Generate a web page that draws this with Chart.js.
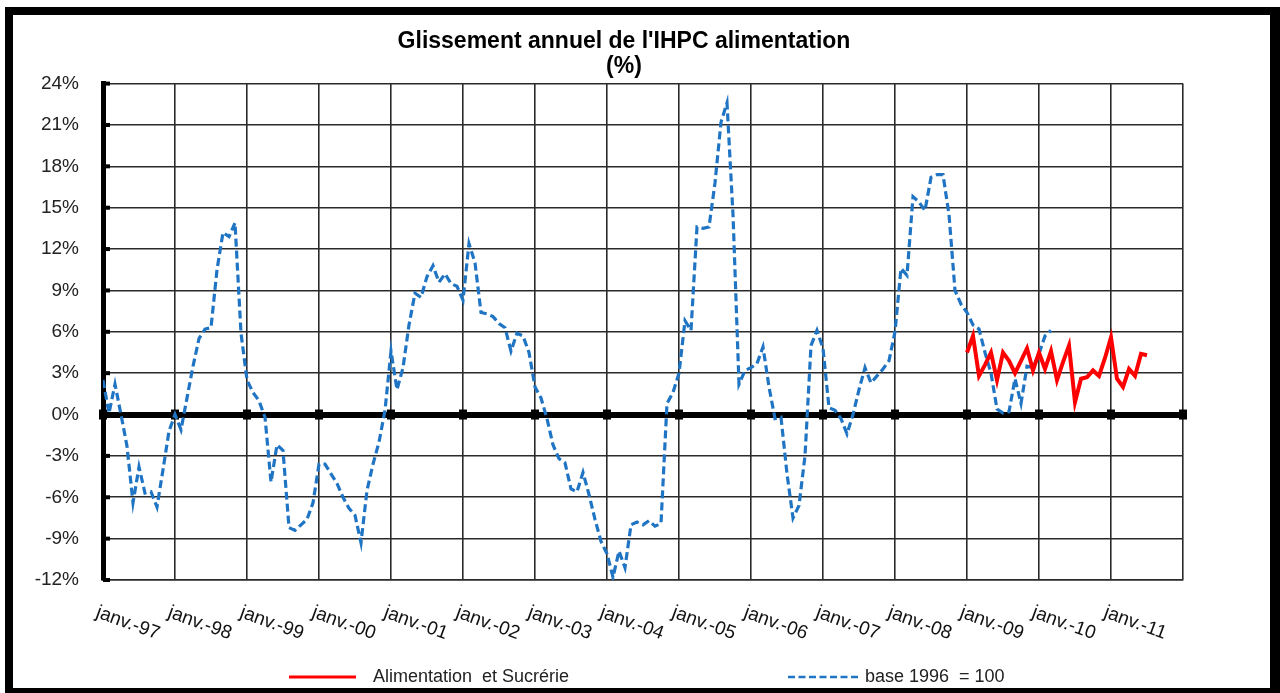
<!DOCTYPE html>
<html lang="fr">
<head>
<meta charset="utf-8">
<title>Glissement annuel de l'IHPC alimentation</title>
<script src="https://cdn.jsdelivr.net/npm/chart.js@4.4.1/dist/chart.umd.min.js"></script>
<style>
  html, body { margin: 0; padding: 0; background: #fff; overflow: hidden; }
  /* heavy black frame round the picture */
  #frame {
    position: absolute; left: 5px; top: 7px; width: 1275px; height: 686px;
    box-sizing: border-box; border: solid #000; border-width: 8px 10px 5px 8px;
  }
  #chart { position: absolute; left: 0; top: 0; }
</style>
</head>
<body>
<div id="frame"></div>
<canvas id="chart" width="1280" height="693"></canvas>
<script>
"use strict";

// x axis: months counted from janv. 1997 (0) to janv. 2012 (180)
const YEAR_LABELS = [
  "janv.-97", "janv.-98", "janv.-99", "janv.-00", "janv.-01",
  "janv.-02", "janv.-03", "janv.-04", "janv.-05", "janv.-06",
  "janv.-07", "janv.-08", "janv.-09", "janv.-10", "janv.-11",
];
const MONTHS_SPAN = 180;

const Y_MIN = -12;
const Y_MAX = 24;
const Y_STEP = 3;

// base 1996 = 100, monthly from janv. 1997 to mars 2010
const BASE_1996 = [
  2.5, 0.1, 2.2, 0.0, -2.3, -6.4, -3.8, -5.7, -5.6, -6.7, -4.0, -1.2,     // 1997
  0.0, -1.1, 1.2, 3.5, 5.5, 6.2, 6.3, 10.5, 13.2, 12.9, 13.9, 5.9,        // 1998
  2.5, 1.6, 1.0, -0.2, -4.9, -2.2, -2.6, -8.2, -8.4, -8.0, -7.6, -6.4,    // 1999
  -3.6, -3.6, -4.3, -5.0, -6.0, -6.8, -7.3, -9.3, -5.5, -3.6, -2.0, 0.3,  // 2000
  4.6, 1.8, 3.4, 6.5, 8.8, 8.5, 10.0, 10.8, 9.6, 10.2, 9.5, 9.3,          // 2001
  8.3, 12.4, 11.0, 7.4, 7.3, 7.1, 6.6, 6.3, 4.6, 5.9, 5.7, 4.5,           // 2002
  2.0, 1.2, -0.3, -2.2, -3.2, -3.5, -5.4, -5.6, -4.2, -5.8, -7.6, -9.2,   // 2003
  -10.1, -11.8, -9.9, -11.1, -8.0, -7.8, -8.0, -7.7, -8.1, -7.9, 0.8, 1.6, // 2004
  3.0, 6.8, 6.1, 13.6, 13.5, 13.6, 16.8, 21.2, 22.6, 14.5, 2.2, 3.2,      // 2005
  3.4, 3.7, 4.9, 2.0, -0.3, -0.2, -4.3, -7.5, -6.6, -3.0, 5.0, 6.1,       // 2006
  4.8, 0.5, 0.3, -0.3, -1.4, 0.0, 1.8, 3.4, 2.3, 2.8, 3.3, 3.9,           // 2007
  6.0, 10.6, 10.1, 15.8, 15.4, 14.8, 17.2, 17.4, 17.4, 14.5, 9.0, 8.0,    // 2008
  7.4, 6.5, 6.2, 4.5, 3.0, 0.4, 0.1, 0.2, 2.6, 0.8, 3.5, 3.4,             // 2009
  4.4, 5.7, 6.1,                                                          // 2010
];

// Alimentation et Sucrérie, monthly from janv. 2009 to juil. 2011
const ALIM_START = 144;
const ALIM_SUCRERIE = [
  4.5, 5.7, 2.8, 3.6, 4.5, 2.5, 4.5, 3.9, 3.0, 3.9, 4.8, 3.2,  // 2009
  4.5, 3.3, 4.6, 2.5, 3.8, 5.0, 0.9, 2.6, 2.7, 3.2, 2.8, 4.1,  // 2010
  5.6, 2.6, 2.0, 3.3, 2.8, 4.4, 4.3,                           // 2011
];

const FONT = '"Liberation Sans", Arial, sans-serif';
const GRID = "#2a2a2a";

// where the two legend entries sit (line start, line end, text start)
const LEGEND_POS = [
  { x0: 289, x1: 356, tx: 373 },
  { x0: 788, x1: 858, tx: 865 },
];

/* ─── extra drawing: axis stubs, rotated month labels, legend ─── */

const decorations = {
  id: "decorations",
  beforeDatasetsDraw(chart) {
    const { ctx, chartArea: a, scales: { x, y } } = chart;
    ctx.save();
    ctx.fillStyle = "#000";
    const y0 = y.getPixelForValue(0);
    for (let m = 0; m <= MONTHS_SPAN; m += 12) {
      const px = x.getPixelForValue(m);
      ctx.fillRect(px - 4, y0 - 5, 8, 10);
    }
    y.ticks.forEach(t => {
      const py = y.getPixelForValue(t.value);
      ctx.fillRect(a.left, py - 2, 7, 4);
    });
    ctx.restore();
  },
  afterDraw(chart) {
    const { ctx, chartArea: a, scales: { x } } = chart;
    ctx.save();
    ctx.fillStyle = "#111";
    ctx.font = "19px " + FONT;
    ctx.textAlign = "left";
    ctx.textBaseline = "top";
    YEAR_LABELS.forEach((lab, i) => {
      const px = x.getPixelForValue(i * 12);
      ctx.save();
      ctx.translate(px - 3, a.bottom + 23);
      ctx.rotate(20 * Math.PI / 180);
      ctx.fillText(lab, 0, 0);
      ctx.restore();
    });

    // legend
    const ly = 677;
    ctx.font = "18px " + FONT;
    ctx.textBaseline = "middle";
    ctx.fillStyle = "#222";
    chart.data.datasets.forEach((ds, i) => {
      const p = LEGEND_POS[i];
      ctx.beginPath();
      ctx.strokeStyle = ds.borderColor;
      ctx.lineWidth = ds.borderDash ? 2.5 : 3;
      ctx.setLineDash(ds.borderDash ? [7, 3.5] : []);
      ctx.moveTo(p.x0, ly);
      ctx.lineTo(p.x1, ly);
      ctx.stroke();
      ctx.setLineDash([]);
      ctx.fillText(ds.label, p.tx, ly);
    });
    ctx.restore();
  },
};

const alimPoints = ALIM_SUCRERIE.map((v, i) => ({ x: ALIM_START + i, y: v }));
const basePoints = BASE_1996.map((v, i) => ({ x: i, y: v }));

new Chart(document.getElementById("chart"), {
  type: "line",
  data: {
    datasets: [
      {
        label: "Alimentation  et Sucrérie",
        data: alimPoints,
        borderColor: "#ff0000",
        borderWidth: 4,
        pointRadius: 0,
        tension: 0,
      },
      {
        label: "base 1996  = 100",
        data: basePoints,
        borderColor: "#1f74c4",
        borderWidth: 3.2,
        borderDash: [8, 4],
        pointRadius: 0,
        tension: 0,
      },
    ],
  },
  options: {
    responsive: false,
    animation: false,
    layout: { padding: { left: 15, right: 47, top: 15, bottom: 13 } },
    plugins: {
      legend: { display: false },
      tooltip: { enabled: false },
      title: {
        display: true,
        text: ["Glissement annuel de l'IHPC alimentation", "(%)"],
        color: "#000",
        font: { family: FONT, size: 23, weight: "bold", lineHeight: 1.1 },
        padding: { top: 14, bottom: 4 },
      },
    },
    scales: {
      x: {
        type: "linear",
        min: 0,
        max: MONTHS_SPAN,
        ticks: { stepSize: 12, display: false },
        grid: { color: GRID, lineWidth: 1.6, drawTicks: false },
        border: { display: true, color: GRID, width: 1.6 },
        afterFit: s => { s.height = 100; },
      },
      y: {
        min: Y_MIN,
        max: Y_MAX,
        ticks: {
          stepSize: Y_STEP,
          padding: 24,
          color: "#222",
          font: { family: FONT, size: 19 },
          callback: v => v + "%",
        },
        grid: {
          drawTicks: false,
          color: c => (c.tick && c.tick.value === 0 ? "#000" : GRID),
          lineWidth: c => (c.tick && c.tick.value === 0 ? 6 : 1.6),
        },
        border: { display: true, color: "#000", width: 5 },
        afterFit: s => { s.width = 88; },
      },
      // empty right-hand band so the title centres like the original
      y2: {
        position: "right",
        min: Y_MIN,
        max: Y_MAX,
        ticks: { display: false },
        grid: { display: false, drawTicks: false },
        border: { display: false },
        afterFit: s => { s.width = 50; },
      },
    },
  },
  plugins: [decorations],
});
</script>
</body>
</html>
